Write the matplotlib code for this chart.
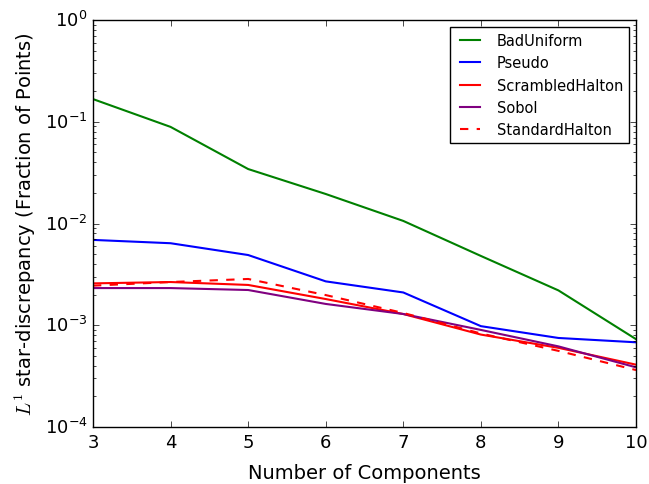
import matplotlib
matplotlib.use('Agg')
import matplotlib.pyplot as plt

plt.style.use('classic')
plt.rcParams['figure.facecolor'] = 'white'
plt.rcParams['savefig.facecolor'] = 'white'

components = [3, 4, 5, 6, 7, 8, 9, 10]

bad_uniform = [0.167, 0.089, 0.0343, 0.0195, 0.0106, 0.0048, 0.0022, 0.00073]
pseudo = [0.0069, 0.0064, 0.0049, 0.0027, 0.0021, 0.00098, 0.00075, 0.00068]
scrambled_halton = [0.00258, 0.00266, 0.00249, 0.00181, 0.00129, 0.00081, 0.00060, 0.00041]
sobol = [0.00232, 0.00232, 0.00222, 0.00162, 0.00129, 0.00090, 0.00062, 0.000386]
standard_halton = [0.00245, 0.00266, 0.00285, 0.00198, 0.00132, 0.00083, 0.00056, 0.000363]

fig = plt.figure(figsize=(6.49, 4.85), dpi=100)
ax = fig.add_axes([0.1433, 0.1175, 0.8367, 0.8392])

ax.plot(components, bad_uniform, color='green', lw=1.5, label='BadUniform')
ax.plot(components, pseudo, color='blue', lw=1.5, label='Pseudo')
ax.plot(components, scrambled_halton, color='red', lw=1.5, label='ScrambledHalton')
ax.plot(components, sobol, color='purple', lw=1.5, label='Sobol')
ax.plot(components, standard_halton, color='red', lw=1.5, ls='--', label='StandardHalton')

ax.set_yscale('log')
ax.set_ylim(1e-4, 1)
ax.set_xlim(3, 10)
ax.tick_params(labelsize=13)
ax.set_xlabel('Number of Components', fontsize=14, labelpad=9)
ax.set_ylabel(r'$L^1$ star-discrepancy (Fraction of Points)', fontsize=14)

leg = ax.legend(loc='upper right', fontsize=10.5, handlelength=2.0)
leg.get_frame().set_edgecolor('black')

fig.savefig('out.png', dpi=100)
